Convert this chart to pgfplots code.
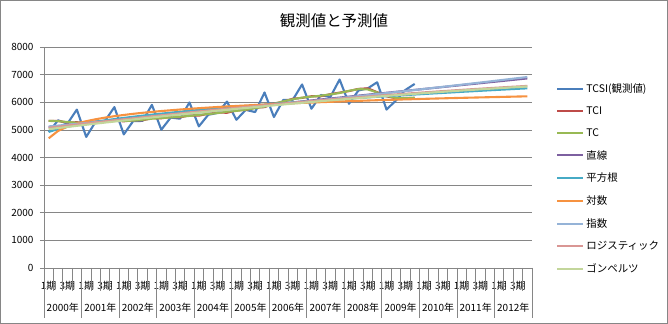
\documentclass[border=0pt]{standalone}
\usepackage{fontspec}
\setmainfont{Noto Sans CJK JP}
\usepackage{pgfplots}
\usepackage{pgfplotstable}
\pgfplotsset{compat=1.18}

\definecolor{cTCSI}{HTML}{4A7EBB}
\definecolor{cTCI}{HTML}{BE4B48}
\definecolor{cTC}{HTML}{98B954}
\definecolor{cLin}{HTML}{7D60A0}
\definecolor{cSqrt}{HTML}{46AAC5}
\definecolor{cLog}{HTML}{F69240}
\definecolor{cExp}{HTML}{95B3D7}
\definecolor{cLogi}{HTML}{D99694}
\definecolor{cGomp}{HTML}{C3D69B}
\definecolor{cGrid}{HTML}{868686}

\pgfplotstableread{
i tcsi tci tc lin sqrt log exp logi gomp
0 4930 5330 5330 5100 4930 4700 5130 5080 5030
1 5350 5330 5320 5134 5036 4967 5160 5120 5071
2 5230 5270 5290 5169 5117 5123 5191 5160 5111
3 5740 5281 5261 5204 5185 5233 5221 5199 5151
4 4750 5258 5268 5239 5245 5319 5252 5238 5190
5 5300 5306 5291 5273 5299 5389 5283 5277 5230
6 5330 5294 5314 5308 5349 5449 5314 5315 5269
7 5830 5338 5328 5343 5395 5500 5345 5352 5306
8 4840 5315 5330 5377 5439 5545 5377 5390 5345
9 5320 5350 5340 5412 5480 5586 5408 5427 5382
10 5330 5351 5371 5447 5520 5623 5440 5463 5419
11 5910 5429 5409 5481 5557 5656 5472 5499 5455
12 5010 5425 5435 5516 5593 5687 5504 5535 5492
13 5450 5471 5456 5551 5628 5715 5537 5570 5528
14 5410 5458 5483 5586 5661 5742 5569 5605 5563
15 6000 5530 5510 5620 5694 5767 5602 5639 5598
16 5130 5519 5549 5655 5725 5790 5635 5673 5632
17 5550 5589 5579 5690 5755 5812 5668 5707 5667
18 5620 5633 5613 5724 5785 5833 5702 5740 5701
19 6030 5625 5665 5759 5814 5853 5735 5772 5733
20 5370 5711 5691 5794 5842 5871 5769 5805 5767
21 5730 5726 5736 5828 5869 5889 5803 5836 5798
22 5650 5810 5790 5863 5896 5906 5837 5868 5831
23 6360 5828 5848 5898 5922 5923 5872 5899 5863
24 5470 5958 5948 5933 5948 5938 5906 5930 5894
25 6090 6024 6039 5967 5973 5953 5941 5960 5925
26 6090 6133 6113 6002 5998 5968 5976 5990 5955
27 6650 6163 6173 6037 6022 5982 6011 6019 5985
28 5770 6223 6208 6071 6046 5995 6046 6048 6014
29 6270 6223 6243 6106 6069 6008 6082 6077 6044
30 6190 6298 6288 6141 6092 6021 6118 6105 6073
31 6830 6355 6340 6175 6115 6033 6154 6133 6101
32 5950 6410 6420 6210 6137 6045 6190 6160 6129
33 6430 6490 6480 6245 6159 6056 6227 6187 6156
34 6510 6510 6470 6280 6181 6068 6263 6213 6183
35 6730 6370 6360 6314 6202 6079 6300 6239 6210
36 5740 6220 6240 6349 6223 6089 6337 6265 6236
37 6070 6150 6160 6384 6244 6100 6374 6290 6262
38 6450 6160 6150 6418 6265 6110 6412 6315 6287
39 6670 6160 6170 6453 6285 6119 6450 6339 6311
40 nan nan nan 6488 6305 6129 6488 6363 6337
41 nan nan nan 6522 6325 6138 6526 6387 6361
42 nan nan nan 6557 6344 6147 6564 6410 6385
43 nan nan nan 6592 6363 6156 6603 6432 6407
44 nan nan nan 6627 6383 6165 6642 6454 6430
45 nan nan nan 6661 6401 6173 6681 6476 6452
46 nan nan nan 6696 6420 6181 6720 6497 6474
47 nan nan nan 6731 6439 6189 6760 6518 6496
48 nan nan nan 6765 6457 6197 6800 6539 6517
49 nan nan nan 6800 6475 6205 6840 6559 6538
50 nan nan nan 6835 6493 6213 6880 6578 6557
51 nan nan nan 6869 6510 6220 6920 6598 6578
}\data

\begin{document}
\begin{tikzpicture}
\useasboundingbox (0,0) rectangle (668bp,324bp);
\draw[cGrid, line width=1bp] (0.5bp,0.5bp) rectangle (667.5bp,323.5bp);
\node[font=\fontsize{15.5}{18}\selectfont] at (334bp,303bp) {観測値と予測値};
\begin{axis}[
  at={(44bp,56bp)}, anchor=south west, scale only axis,
  width=488bp, height=220.8bp,
  xmin=-0.5, xmax=51.5, ymin=0, ymax=8000,
  axis x line*=bottom, axis y line*=left,
  axis line style={cGrid, line width=0.8bp, -},
  ytick={0,1000,...,8000},
  ymajorgrids, grid style={cGrid, line width=0.8bp},
  tick align=outside, major tick length=4bp,
  ytick style={cGrid, line width=0.8bp},
  xtick={0,2,...,50},
  xticklabels={1期,3期,1期,3期,1期,3期,1期,3期,1期,3期,1期,3期,1期,3期,1期,3期,1期,3期,1期,3期,1期,3期,1期,3期,1期,3期},
  xtick style={draw=none},
  xticklabel style={anchor=center, yshift=-13.7bp, font=\fontsize{10}{12}\selectfont},
  yticklabel style={font=\fontsize{10}{12}\selectfont, xshift=-3bp},
  /pgf/number format/assume math mode=true,
  /pgf/number format/1000 sep={},
  unbounded coords=jump,
  clip=false,
  legend style={at={(1,1)}, anchor=north west, xshift=24bp, yshift=-34.5bp,
    draw=none, fill=none, font=\fontsize{10.5}{12}\selectfont,
    row sep=8.5bp, inner sep=0pt},
  legend cell align=left,
  legend image code/.code={\draw[#1, line width=2.2bp] (0bp,0bp) -- (26bp,0bp);},
  every axis plot/.append style={line width=2.1bp, line join=round, no markers},
]
\addplot[cTCSI] table[x=i, y=tcsi] {\data}; \addlegendentry{TCSI(観測値)}
\addplot[cTCI] table[x=i, y=tci] {\data}; \addlegendentry{TCI}
\addplot[cTC] table[x=i, y=tc] {\data}; \addlegendentry{TC}
\addplot[cLin] table[x=i, y=lin] {\data}; \addlegendentry{直線}
\addplot[cSqrt] table[x=i, y=sqrt] {\data}; \addlegendentry{平方根}
\addplot[cLog] table[x=i, y=log] {\data}; \addlegendentry{対数}
\addplot[cExp] table[x=i, y=exp] {\data}; \addlegendentry{指数}
\addplot[cLogi] table[x=i, y=logi] {\data}; \addlegendentry{ロジスティック}
\addplot[cGomp] table[x=i, y=gomp] {\data}; \addlegendentry{ゴンペルツ}
\end{axis}
\foreach \k in {0,...,52} \draw[cGrid, line width=0.8bp] ({44bp+\k*9.3846bp},56bp) -- ++(0,-23bp);
\foreach \k in {0,...,13} \draw[cGrid, line width=0.8bp] ({44bp+4*\k*9.3846bp},56bp) -- ++(0,-50bp);
\foreach \y [count=\k from 0] in {2000,...,2012}
  \node[font=\fontsize{10}{12}\selectfont] at ({44bp+(4*\k+2)*9.3846bp},16bp) {\y 年};
\end{tikzpicture}
\end{document}
